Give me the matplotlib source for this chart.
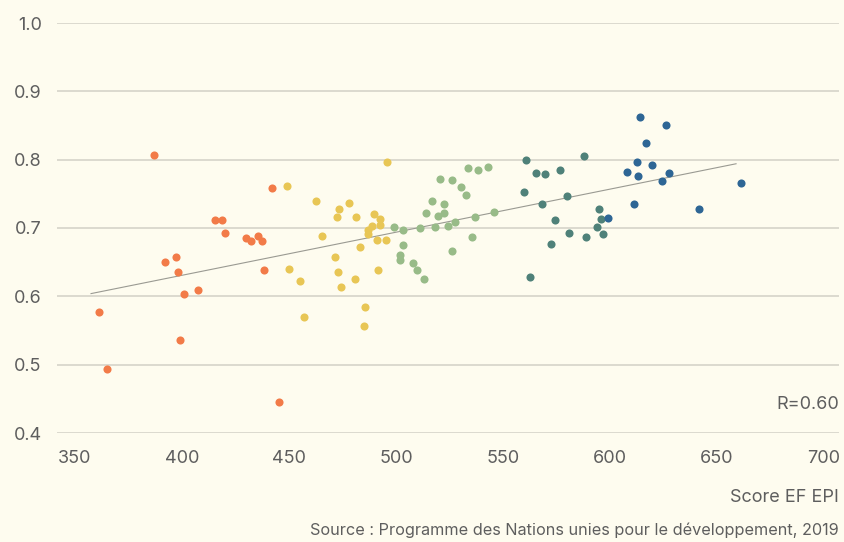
import matplotlib
matplotlib.use('Agg')
import matplotlib.pyplot as plt

# values
orange_x = [387.0, 442.2, 415.4, 418.8, 420.2, 429.7, 432.3, 435.6, 437.6, 397.3,
            392.0, 398.2, 438.3, 401.1, 407.4, 361.3, 399.0, 364.9, 445.2]
orange_y = [0.807, 0.758, 0.711, 0.711, 0.692, 0.685, 0.681, 0.689, 0.681, 0.658,
            0.650, 0.636, 0.639, 0.604, 0.609, 0.577, 0.536, 0.493, 0.445]

yellow_x = [495.9, 449.1, 462.4, 478.0, 473.5, 472.6, 481.3, 489.7, 492.5, 492.5,
            488.7, 486.7, 486.7, 490.9, 495.2, 465.6, 483.3, 471.5, 449.8, 455.1,
            472.8, 474.3, 480.7, 491.7, 457.1, 485.6, 484.9]
yellow_y = [0.797, 0.761, 0.740, 0.737, 0.728, 0.716, 0.716, 0.721, 0.713, 0.705,
            0.703, 0.697, 0.691, 0.683, 0.682, 0.688, 0.672, 0.658, 0.640, 0.622,
            0.635, 0.614, 0.626, 0.639, 0.570, 0.584, 0.557]

green_x = [499.3, 503.2, 503.4, 502.0, 501.8, 508.1, 510.0, 513.3, 511.4, 514.2,
           516.8, 519.6, 522.4, 522.6, 518.1, 524.3, 527.7, 526.3, 520.7, 526.0,
           530.6, 532.5, 533.7, 538.2, 542.9, 536.7, 546.0, 535.3]
green_y = [0.701, 0.697, 0.675, 0.660, 0.653, 0.649, 0.638, 0.626, 0.700, 0.722,
           0.740, 0.718, 0.735, 0.722, 0.702, 0.703, 0.709, 0.667, 0.772, 0.770,
           0.760, 0.748, 0.788, 0.785, 0.790, 0.716, 0.723, 0.687]

teal_x = [560.9, 565.5, 569.8, 588.0, 576.8, 559.9, 579.7, 568.3, 574.2, 595.0,
          596.0, 593.7, 596.8, 580.7, 588.8, 572.3, 562.7]
teal_y = [0.799, 0.781, 0.779, 0.806, 0.785, 0.753, 0.747, 0.735, 0.712, 0.728,
          0.713, 0.701, 0.691, 0.693, 0.687, 0.677, 0.628]

blue_x = [598.9, 614.2, 626.2, 616.9, 612.5, 619.8, 608.0, 613.2, 627.4, 624.5,
          661.1, 611.1, 641.5]
blue_y = [0.715, 0.862, 0.851, 0.824, 0.797, 0.792, 0.782, 0.776, 0.781, 0.769,
          0.766, 0.735, 0.728]

trend_x = [357.5, 658.9]
trend_y = [0.604, 0.794]

x_ticks = [350, 400, 450, 500, 550, 600, 650, 700]
y_ticks = [0.4, 0.5, 0.6, 0.7, 0.8, 0.9, 1.0]

bg = '#fefcef'
txt = '#5e5e5e'
plt.rcParams['font.family'] = ['Inter', 'DejaVu Sans']

fig = plt.figure(figsize=(8.45, 5.42), dpi=100, facecolor=bg)
ax = fig.add_axes([57 / 845, 1 - 433 / 542, (839 - 57) / 845, (433 - 23) / 542])
ax.set_facecolor(bg)

for y in y_ticks:
    ax.axhline(y, color='#d2d0c6', lw=1.1, zorder=0)

ax.plot(trend_x, trend_y, color='#9a9a92', lw=0.8, zorder=1)

groups = [
    (orange_x, orange_y, '#f27b48'),
    (yellow_x, yellow_y, '#e8c655'),
    (green_x, green_y, '#98bb88'),
    (teal_x, teal_y, '#4f8179'),
    (blue_x, blue_y, '#2e6695'),
]
for xs, ys, c in groups:
    ax.scatter(xs, ys, s=34, color=c, linewidths=0, zorder=3)

ax.set_xlim(341.6, 707.0)
ax.set_ylim(0.4, 1.0)
ax.set_xticks(x_ticks)
ax.set_yticks(y_ticks)
ax.set_xticklabels([str(v) for v in x_ticks])
ax.set_yticklabels(['%.1f' % v for v in y_ticks])
ax.tick_params(length=0, labelsize=13, colors=txt)
ax.tick_params(axis='x', pad=12)
ax.tick_params(axis='y', pad=11)
for s in ax.spines.values():
    s.set_visible(False)

ax.text(1.0, 0.07, 'R=0.60', transform=ax.transAxes, ha='right', va='center',
        fontsize=13, color=txt)
fig.text(839 / 845, 1 - 497 / 542, 'Score EF EPI', ha='right', va='center',
         fontsize=13, color=txt)
fig.text(839 / 845, 1 - 530 / 542,
         'Source : Programme des Nations unies pour le développement, 2019',
         ha='right', va='center', fontsize=11.7, color=txt)

fig.savefig('out.png', dpi=100, facecolor=bg)
